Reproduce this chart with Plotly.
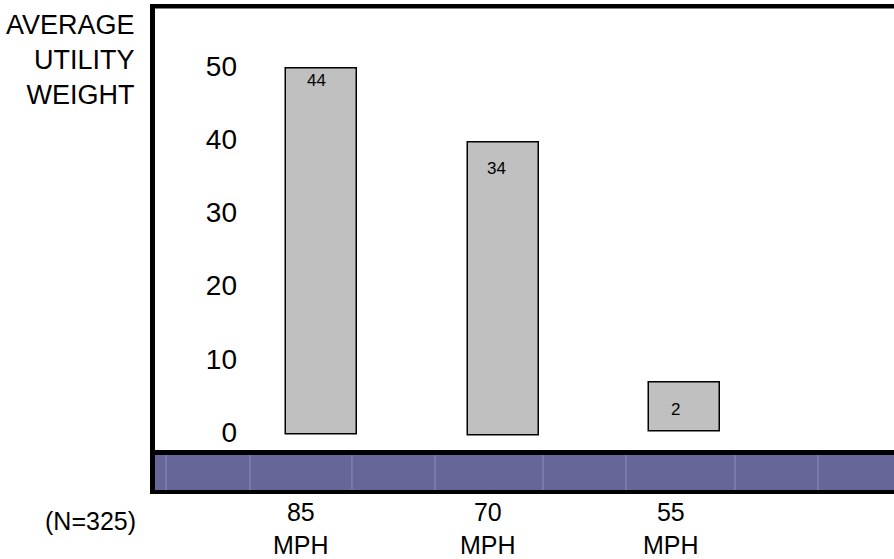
import plotly.graph_objects as go

# ---------------- data ----------------
categories = ["85<br>MPH", "70<br>MPH", "55<br>MPH"]
bar_top = [49.6, 39.6, 6.8]          # drawn bar tops (axis units)
bar_base = [-0.4, -0.5, 0.1]         # drawn bar bottoms (axis units)
value_labels = ["44", "34", "2"]
y_ticks = [0, 10, 20, 30, 40, 50]
y_tick_text = ["0", "10", "20", "30", "40", "50"]
axis_title = "AVERAGE<br>UTILITY<br>WEIGHT"
sample_note = "(N=325)"

# ---------------- layout helpers ----------------
W, H = 894, 559
def px(x):
    return x / W
def py(y):
    return 1 - y / H

x_pos = list(range(len(categories)))
STEP = 181.5          # pixels per category
X0_PIX = 321.5        # pixel of first category
Y0_PIX = 432          # pixel of value 0
UNIT = 7.32           # pixels per axis unit

def xr(pix):
    return (pix - X0_PIX) / STEP
def yr(pix):
    return (Y0_PIX - pix) / UNIT

SANS = "Liberation Sans, Arial, sans-serif"

heights = [t - b for t, b in zip(bar_top, bar_base)]

fig = go.Figure()
fig.add_trace(go.Bar(
    x=x_pos, y=heights, base=bar_base, width=71 / STEP,
    marker=dict(color="#C0C0C0", line=dict(color="black", width=1.5)),
    hoverinfo="skip", showlegend=False,
))

# value labels inside bars (offset below top, slightly left of centre)
label_drop = [1.6, 3.6, 3.7]
label_shift = [-0.03, -0.035, -0.05]
for i, lab in enumerate(value_labels):
    fig.add_annotation(x=x_pos[i] + label_shift[i], y=bar_top[i] - label_drop[i],
                       xref="x", yref="y", text=lab, showarrow=False,
                       font=dict(family=SANS, size=17, color="black"))

# category labels below the band
cat_shift = [-0.115, -0.083, -0.072]
for i, c in enumerate(categories):
    fig.add_annotation(x=x_pos[i] + cat_shift[i], y=py(496), xref="x", yref="paper",
                       yanchor="top", text=c, showarrow=False, align="center",
                       font=dict(family=SANS, size=25, color="black"))

fig.add_annotation(x=px(137), y=py(8), xref="paper", yref="paper", xanchor="right",
                   yanchor="top", align="right", text=axis_title, showarrow=False,
                   font=dict(family=SANS, size=27, color="black"))
fig.add_annotation(x=px(138), y=py(521), xref="paper", yref="paper", xanchor="right",
                   yanchor="middle", text=sample_note, showarrow=False,
                   font=dict(family=SANS, size=25, color="black"))

# frame and band
shapes = []
def rect(x0, y0, x1, y1, color):
    shapes.append(dict(type="rect", xref="paper", yref="paper",
                       x0=px(x0), x1=px(x1), y0=py(y1), y1=py(y0),
                       fillcolor=color, line=dict(width=0), layer="above"))
rect(155, 455, W, 490, "#666699")
for lx in [166, 250, 352, 435, 543, 626, 735, 818]:
    shapes.append(dict(type="line", xref="paper", yref="paper",
                       x0=px(lx), x1=px(lx), y0=py(490), y1=py(455),
                       line=dict(color="#8C8CBA", width=1), layer="above"))
rect(150, 4, 155, 494, "black")
rect(150, 4, W, 8.5, "black")
rect(150, 450, W, 455, "black")
rect(150, 490, W, 494, "black")

fig.update_layout(
    width=W, height=H, margin=dict(l=0, r=0, t=0, b=0),
    paper_bgcolor="white", plot_bgcolor="white", shapes=shapes,
    xaxis=dict(domain=[px(155), 1], range=[xr(155), xr(W)], showgrid=False,
               zeroline=False, showticklabels=False, showline=False, fixedrange=True),
    yaxis=dict(domain=[py(450), py(8.5)], range=[yr(450), yr(8.5)], anchor="free",
               position=px(237), tickvals=y_ticks, ticktext=y_tick_text, ticks="",
               showgrid=False, zeroline=False, showline=False,
               tickfont=dict(family=SANS, size=28, color="black"), fixedrange=True),
    bargap=0,
)

fig.write_html("out.html", config={"displayModeBar": False},
               post_script="document.body.style.margin='0';")
